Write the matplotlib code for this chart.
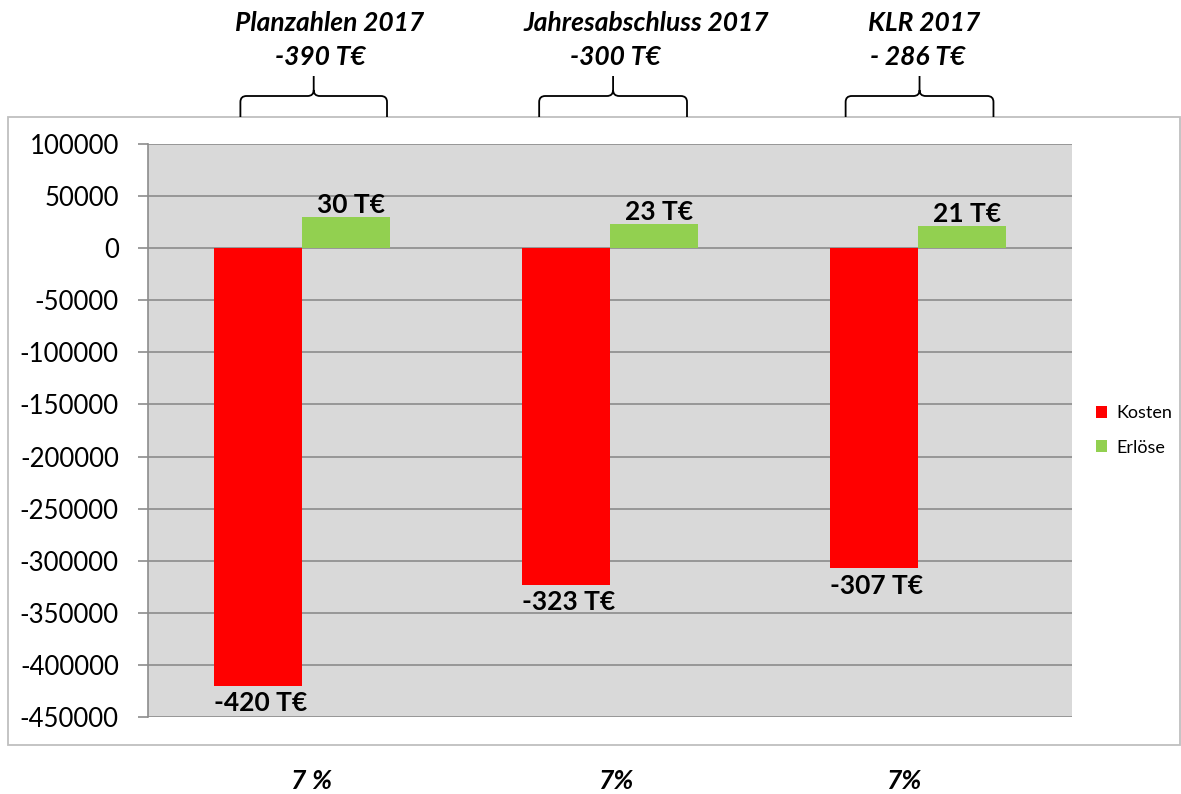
import matplotlib
matplotlib.use("Agg")
import matplotlib.pyplot as plt
from matplotlib.patches import Rectangle, PathPatch
from matplotlib.path import Path
import matplotlib.transforms as mtransforms
import numpy as np

# ---- data ----
categories = ["Planzahlen 2017", "Jahresabschluss 2017", "KLR 2017"]
kosten = [-420000, -323000, -307000]
erloese = [30000, 23000, 21000]
kosten_labels = ["-420 T€", "-323 T€", "-307 T€"]
erloese_labels = ["30 T€", "23 T€", "21 T€"]
top_titles = ["Planzahlen 2017", "Jahresabschluss 2017", "KLR 2017"]
top_totals = ["-390 T€", "-300 T€", "- 286 T€"]
bottom_pct = ["7 %", "7%", "7%"]
yticks = [100000, 50000, 0, -50000, -100000, -150000, -200000, -250000,
          -300000, -350000, -400000, -450000]
series_names = ["Kosten", "Erlöse"]

FONT = ["Lato", "DejaVu Sans"]
plt.rcParams['font.family'] = FONT

W, H = 1181, 794
fig = plt.figure(figsize=(W / 100, H / 100), dpi=100)

# chart frame
fig.patches.append(Rectangle((8 / W, 1 - 745 / H), (1180 - 8) / W, (745 - 117) / H,
                             transform=fig.transFigure, fill=False,
                             edgecolor="#BFBFBF", linewidth=1.3))

ax = fig.add_axes([148 / W, 1 - 717 / H, (1072 - 148) / W, (717 - 144) / H])
ax.set_facecolor("#D9D9D9")
x = np.arange(len(categories))
bw = 0.285
bars_k = ax.bar(x - bw / 2, kosten, width=bw, color="#FF0000", label=series_names[0], zorder=3)
bars_e = ax.bar(x + bw / 2, erloese, width=bw, color="#92D050", label=series_names[1], zorder=3)

ax.set_xlim(-0.5, len(categories) - 0.5)
ax.set_ylim(-450000, 100000)
ax.set_yticks(yticks)
ax.set_yticklabels([str(v) for v in yticks], fontsize=18.5)
ax.set_xticks([])
ax.grid(axis="y", color="#8C8C8C", linewidth=1.2, zorder=0)
ax.tick_params(axis="y", direction="out", length=7, width=1.2, color="#8C8C8C", pad=14)
for s in ["top", "right", "bottom"]:
    ax.spines[s].set_visible(False)
ax.spines["left"].set_color("#8C8C8C")
ax.spines["left"].set_linewidth(1.2)

# data labels
for b, lab in zip(bars_k, kosten_labels):
    ax.annotate(lab, (b.get_x() + b.get_width() / 2, b.get_height()),
                xytext=(2, -4), textcoords="offset points", ha="center", va="top",
                fontsize=19, fontweight="bold", zorder=4)
for b, lab in zip(bars_e, erloese_labels):
    ax.annotate(lab, (b.get_x() + b.get_width() / 2, b.get_height()),
                xytext=(4, 0), textcoords="offset points", ha="center", va="bottom",
                fontsize=19, fontweight="bold", zorder=4)

# legend
leg = ax.legend(loc="center left", bbox_to_anchor=(1.008, 0.5), frameon=False,
                fontsize=13, handlelength=0.65, handleheight=0.65, handletextpad=0.5,
                labelspacing=1.0)

# top titles & braces
blend = mtransforms.blended_transform_factory(ax.transData, fig.transFigure)
title_dx = [0.088, 0.117, 0.019]
total_dx = [0.058, 0.016, 0.0]
brace_l = [-0.20, -0.23, -0.235]
brace_r = [0.276, 0.25, 0.245]
for i in range(len(categories)):
    fig.text(x[i] + title_dx[i], 1 - 31 / H, top_titles[i], transform=blend,
             fontsize=19, fontweight="bold", fontstyle="italic", ha="center", va="baseline")
    fig.text(x[i] + total_dx[i], 1 - 65 / H, top_totals[i], transform=blend,
             fontsize=19, fontweight="bold", fontstyle="italic", ha="center", va="baseline")
    # brace
    xl, xr = x[i] + brace_l[i], x[i] + brace_r[i]
    xm = (xl + xr) / 2
    ybot = 1 - 117 / H
    yh = 1 - 96 / H
    ytip = 1 - 76 / H
    r = 0.02
    dy = 6 / H
    verts = [(xl, ybot), (xl, yh - dy), (xl, yh), (xl + r, yh),
             (xm - r, yh), (xm, yh), (xm, yh + dy),
             (xm, ytip),
             (xm, yh + dy), (xm, yh), (xm + r, yh),
             (xr - r, yh), (xr, yh), (xr, yh - dy), (xr, ybot)]
    codes = [Path.MOVETO, Path.LINETO, Path.CURVE3, Path.CURVE3,
             Path.LINETO, Path.CURVE3, Path.CURVE3,
             Path.LINETO,
             Path.MOVETO, Path.CURVE3, Path.CURVE3,
             Path.LINETO, Path.CURVE3, Path.CURVE3, Path.LINETO]
    fig.patches.append(PathPatch(Path(verts, codes), transform=blend, fill=False,
                                 edgecolor="black", linewidth=1.3))

# bottom percentages
pct_dx = [0.032, 0.019, -0.045]
for i in range(len(categories)):
    fig.text(x[i] + pct_dx[i], 1 - 789 / H, bottom_pct[i], transform=blend,
             fontsize=19, fontweight="bold", fontstyle="italic", ha="center", va="baseline")

fig.savefig("out.png", dpi=100)
